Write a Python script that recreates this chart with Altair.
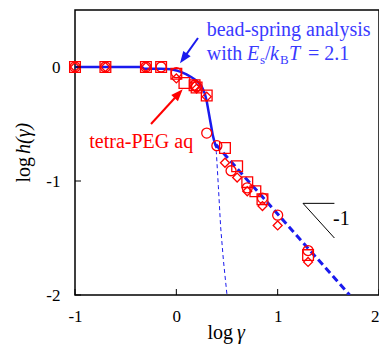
import math
import altair as alt
import pandas as pd

# ---- data ----
sq_x = [-1, -0.7, -0.3, -0.15, 0, 0.08, 0.18, 0.2, 0.3, 0.48, 0.6, 0.7, 0.78, 0.85, 1.3]
sq_y = [0, 0, 0, 0, -0.06, -0.14, -0.16, -0.18, -0.25, -0.71, -0.87, -1.01, -1.09, -1.16, -1.65]

ci_x = [-1, -0.7, -0.3, -0.15, 0, 0.18, 0.2, 0.3, 0.4, 0.54, 0.7, 0.85, 1.0, 1.3]
ci_y = [0, 0, 0, 0, -0.05, -0.16, -0.17, -0.58, -0.69, -0.91, -1.06, -1.15, -1.30, -1.61]

di_x = [-1, -0.7, -0.3, 0, 0.18, 0.2, 0.3, 0.48, 0.6, 0.7, 0.85, 1.0, 1.3]
di_y = [0, 0, 0, -0.1, -0.17, -0.19, -0.26, -0.84, -0.97, -1.09, -1.22, -1.39, -1.71]

solid_x = [-1, -0.5, -0.34, -0.32, -0.15, -0.05, 0, 0.05, 0.1, 0.15, 0.2, 0.25, 0.28, 0.3, 0.32, 0.34, 0.36, 0.38, 0.40]
solid_y = [0, 0, 0, -0.015, -0.015, -0.02, -0.03, -0.045, -0.065, -0.09, -0.12, -0.17, -0.23, -0.3, -0.4, -0.5, -0.6, -0.67, -0.71]

thick_x = [0.39, 1.71]
thick_y = [-0.68, -2.0]

thin_x = [0.38, 0.395, 0.415, 0.437, 0.465, 0.50]
thin_y = [-0.67, -0.75, -1.05, -1.40, -1.70, -2.0]

slope_x = [1.56, 1.25, 1.56]
slope_y = [-1.196, -1.196, -1.50]

x_ticks = [-1, 0, 1, 2]
y_ticks = [-2, -1, 0]

W, H = 304, 285
FONT = "Liberation Serif"
RED = "#ff0000"
BLUE = "#1a1aee"
TXTBLUE = "#3a3aff"

xs = alt.Scale(domain=[-1, 2], nice=False, zero=False)
ys = alt.Scale(domain=[-2, 0.5], nice=False, zero=False)

LBL = "'' + datum.value"
xax = alt.Axis(values=x_ticks, title=None, domain=False, ticks=False, grid=False,
               labelFont=FONT, labelFontSize=17, labelColor="black", labelPadding=13,
               labelFlush=False, labelExpr=LBL,
               labelAlign={"condition": {"test": "datum.value == 2", "value": "right"}, "value": "center"})
yax = alt.Axis(values=y_ticks, title=None, domain=False, ticks=False, grid=False,
               labelFont=FONT, labelFontSize=17, labelColor="black", labelPadding=15,
               labelFlush=False, labelExpr=LBL)

X = alt.X("x:Q", scale=xs, axis=xax)
Y = alt.Y("y:Q", scale=ys, axis=yax)


def df(xv, yv):
    return pd.DataFrame({"x": xv, "y": yv, "o": list(range(len(xv)))})


base_line = alt.Chart(df(solid_x, solid_y)).mark_line(color=BLUE, strokeWidth=2.5, clip=True).encode(
    x=X, y=Y, order="o:Q")
thick = alt.Chart(df(thick_x, thick_y)).mark_line(color=BLUE, strokeWidth=3, strokeDash=[7, 4], clip=True).encode(
    x=X, y=Y, order="o:Q")
thin = alt.Chart(df(thin_x, thin_y)).mark_line(color=BLUE, strokeWidth=1, strokeDash=[4, 3], clip=True).encode(
    x=X, y=Y, order="o:Q")
slope = alt.Chart(df(slope_x, slope_y)).mark_line(color="black", strokeWidth=1).encode(
    x=X, y=Y, order="o:Q")

sq = alt.Chart(df(sq_x, sq_y)).mark_point(shape="square", filled=False, color=RED, size=115, strokeWidth=1.3, opacity=1).encode(x=X, y=Y)
ci = alt.Chart(df(ci_x, ci_y)).mark_point(shape="circle", filled=False, color=RED, size=100, strokeWidth=1.3, opacity=1).encode(x=X, y=Y)
di = alt.Chart(df(di_x, di_y)).mark_point(shape="diamond", filled=False, color=RED, size=80, strokeWidth=1.3, opacity=1).encode(x=X, y=Y)

# inward ticks
xt = alt.Chart(pd.DataFrame({"t": x_ticks})).mark_rule(color="black", strokeWidth=1).encode(
    x=alt.X("t:Q", scale=xs), y=alt.value(H), y2=alt.value(H - 6))
yt = alt.Chart(pd.DataFrame({"t": y_ticks})).mark_rule(color="black", strokeWidth=1).encode(
    y=alt.Y("t:Q", scale=ys), x=alt.value(0), x2=alt.value(6))

one = pd.DataFrame({"a": [0]})


def text(t, x, y, size=20, color="black", style="normal", align="left", angle=0):
    return alt.Chart(one).mark_text(font=FONT, fontSize=size, color=color, fontStyle=style,
                                    align=align, baseline="alphabetic", angle=angle).encode(
        x=alt.value(x), y=alt.value(y), text=alt.value(t))


def arrow(tail, head, color):
    dx, dy = head[0] - tail[0], head[1] - tail[1]
    L = math.hypot(dx, dy)
    ux, uy = dx / L, dy / L
    hl = 12
    cx, cy = head[0] - ux * hl / 2, head[1] - uy * hl / 2
    ang = math.degrees(math.atan2(ux, -uy)) % 360
    line = alt.Chart(one).mark_rule(color=color, strokeWidth=2).encode(
        x=alt.value(tail[0]), y=alt.value(tail[1]), x2=alt.value(cx), y2=alt.value(cy))
    hd = alt.Chart(one).mark_point(shape="M0,-1L0.75,1L-0.75,1Z", filled=True, color=color,
                                   size=hl * hl, angle=ang, opacity=1).encode(
        x=alt.value(cx), y=alt.value(cy))
    return line + hd


texts = [
    text("bead-spring analysis", 131.7, 26, color=TXTBLUE),
    text("with", 131.7, 50, color=TXTBLUE),
    text("E", 172, 50, color=TXTBLUE, style="italic"),
    text("s", 185, 54, size=13, color=TXTBLUE),
    text("/", 190, 50, color=TXTBLUE),
    text("k", 195, 50, color=TXTBLUE, style="italic"),
    text("B", 205, 54, size=13, color=TXTBLUE),
    text("T", 214, 50, color=TXTBLUE, style="italic"),
    text("= 2.1", 233, 50, color=TXTBLUE),
    text("tetra-PEG aq", 14.3, 138, color=RED),
    text("-1", 258, 215),
    # axis titles
    text("log", 158, 329, size=20, align="right"),
    text("\u03b3", 162, 329, size=20, style="italic"),
    text("log", -45, 147, size=20, align="right", angle=270),
    text("h(\u03b3)", -45, 144, size=20, style="italic", align="left", angle=270),
]

layers = [base_line, thick, thin, slope, sq, ci, di, xt, yt,
          arrow((76, 114), (107.7, 79.3), RED),
          arrow((123, 28), (105, 53.3), BLUE)] + texts

chart = alt.layer(*layers).properties(
    width=W, height=H,
    autosize=alt.AutoSizeParams(type="none"),
    padding={"left": 67, "top": 2, "right": 0, "bottom": 49},
).configure_view(stroke="black", strokeWidth=1.5)

chart.save("out.html", embed_options={"renderer": "svg", "actions": False})
